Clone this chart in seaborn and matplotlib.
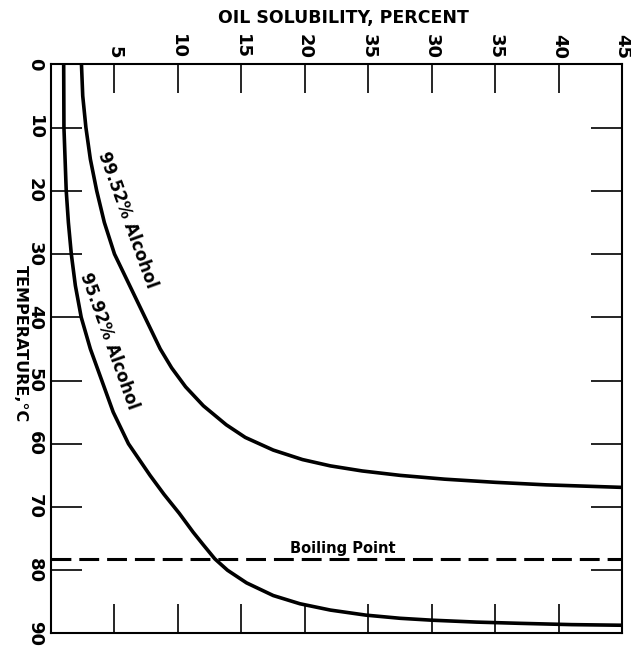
import numpy as np
import pandas as pd
import matplotlib
matplotlib.use("Agg")
import matplotlib.pyplot as plt
import seaborn as sns

# ---- data ----
temp_9952 = [0, 5, 10, 15, 20, 25, 30, 35, 40, 45, 48, 51, 54, 57, 59, 61,
             62.5, 63.5, 64.3, 65, 65.6, 66.1, 66.5, 66.9]
sol_9952 = [2.4, 2.5, 2.75, 3.1, 3.6, 4.2, 5.0, 6.2, 7.4, 8.6, 9.5, 10.6, 12.0,
            13.8, 15.3, 17.5, 19.8, 22.0, 24.5, 27.5, 31.0, 35.0, 39.0, 45.0]

temp_9592 = [0, 10, 20, 25, 30, 35, 40, 45, 50, 55, 60, 65, 68, 71, 74, 76,
             78.2, 80, 82, 84, 85.3, 86.3, 87.1, 87.6, 87.9, 88.2, 88.4, 88.6, 88.7]
sol_9592 = [1.0, 1.02, 1.2, 1.37, 1.6, 1.92, 2.38, 3.1, 4.0, 4.9, 6.1, 7.8, 8.9,
            10.1, 11.2, 12.0, 12.9, 13.9, 15.4, 17.5, 19.6, 22.0, 24.8, 27.5,
            30.0, 33.5, 37.0, 41.0, 45.0]

boiling_point = 78.3

x_ticks = [5, 10, 15, 20, 25, 30, 35, 40, 45]
x_tick_labels = ["5", "10", "15", "20", "35", "30", "35", "40", "45"]
y_ticks = [0, 10, 20, 30, 40, 50, 60, 70, 80, 90]
y_tick_labels = ["0", "10", "20", "30", "40", "50", "60", "70", "80", "90"]

label_9952 = "99.52% Alcohol"
label_9592 = "95.92% Alcohol"

sns.set_style("white")
plt.rcParams["font.family"] = ["DejaVu Sans"]
plt.rcParams["text.color"] = "black"
plt.rcParams["axes.labelcolor"] = "black"
plt.rcParams["xtick.color"] = "black"
plt.rcParams["ytick.color"] = "black"

fig = plt.figure(figsize=(6.31, 6.47), dpi=100)
ax = fig.add_axes([0.0808, 0.0209, 0.9057, 0.8797])

df1 = pd.DataFrame({"sol": sol_9952, "temp": temp_9952})
df2 = pd.DataFrame({"sol": sol_9592, "temp": temp_9592})
sns.lineplot(data=df1, x="sol", y="temp", sort=False, estimator=None,
             color="black", linewidth=2.6, ax=ax)
sns.lineplot(data=df2, x="sol", y="temp", sort=False, estimator=None,
             color="black", linewidth=2.6, ax=ax)

ax.axhline(boiling_point, color="black", linewidth=2.2, linestyle=(0, (6.5, 2.6)))
ax.text(23.0, 76.6, "Boiling Point", ha="center", va="center",
        fontsize=10.5, fontweight="bold", color="black")

ax.text(6.0, 24.6, label_9952, rotation=-70, rotation_mode="anchor",
        ha="center", va="center", fontsize=12, fontweight="bold", color="black")
ax.text(4.55, 43.8, label_9592, rotation=-70.3, rotation_mode="anchor",
        ha="center", va="center", fontsize=12, fontweight="bold", color="black")

ax.set_xlim(0, 45)
ax.set_ylim(90, 0)

ax.set_xticks(x_ticks)
ax.set_xticklabels(x_tick_labels)
ax.set_yticks(y_ticks)
ax.set_yticklabels(y_tick_labels)

ax.xaxis.set_ticks_position("both")
ax.yaxis.set_ticks_position("both")
ax.tick_params(axis="x", direction="in", length=21, width=1.2, color="black",
               labelcolor="black", labeltop=True, labelbottom=False, pad=4,
               labelsize=13, labelrotation=-90)
ax.tick_params(axis="y", direction="in", length=22, width=1.2, color="black",
               labelcolor="black", labelleft=True, labelright=False, pad=5,
               labelsize=13, labelrotation=-90)
for t in ax.get_xticklabels():
    t.set_fontweight("bold")
    t.set_ha("center")
    t.set_va("bottom")
for t in ax.get_yticklabels():
    t.set_fontweight("bold")
    t.set_va("center")
    t.set_ha("right")

for s in ax.spines.values():
    s.set_visible(True)
    s.set_color("black")
    s.set_linewidth(1.5)

ax.set_xlabel("OIL SOLUBILITY, PERCENT", fontsize=12.5, fontweight="bold",
              color="black")
ax.xaxis.set_label_position("top")
ax.xaxis.set_label_coords(0.511, 1.081)
ax.xaxis.label.set_va("center")

ax.set_ylabel("TEMPERATURE,°C", fontsize=11.5, fontweight="bold",
              rotation=270, rotation_mode="default", color="black")
ax.yaxis.label.set_va("center")
ax.yaxis.label.set_ha("center")
ax.yaxis.set_label_coords(-0.054, 0.509)

fig.savefig("out.png", dpi=100)
